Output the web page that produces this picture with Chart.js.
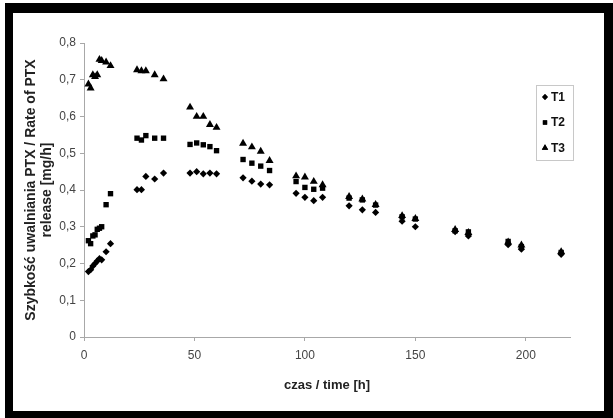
<!DOCTYPE html>
<html lang="pl">

<head>
    <meta charset="UTF-8">
    <title>Szybkość uwalniania PTX</title>
    <style>
        * {
            margin: 0;
            padding: 0;
            box-sizing: border-box;
        }

        body {
            background-color: #fff;
            width: 613px;
            height: 418px;
            overflow: hidden;
        }

        .chart-box {
            position: relative;
            width: 613px;
            height: 418px;
        }
    </style>
</head>

<body>
    <div class="chart-box">
        <canvas id="releaseChart" width="613" height="418"></canvas>
    </div>

    <script src="https://cdn.jsdelivr.net/npm/chart.js"></script>
    <script>
        // czas pomiaru [h]
        const times = [2, 3, 4, 5, 6, 7, 8, 10, 12, 24, 26, 28, 32, 36, 48, 51, 54, 57, 60,
            72, 76, 80, 84, 96, 100, 104, 108, 120, 126, 132, 144, 150, 168, 174, 192, 198, 216];

        // szybkość uwalniania [mg/h]
        const t1 = [0.178, 0.183, 0.193, 0.200, 0.207, 0.213, 0.210, 0.232, 0.254,
            0.401, 0.401, 0.437, 0.430, 0.446, 0.446, 0.450, 0.444, 0.446, 0.444,
            0.433, 0.424, 0.416, 0.414, 0.391, 0.380, 0.371, 0.380, 0.357, 0.346, 0.339,
            0.315, 0.300, 0.287, 0.275, 0.251, 0.239, 0.225];
        const t2 = [0.262, 0.254, 0.275, 0.278, 0.293, 0.296, 0.300, 0.360, 0.390,
            0.541, 0.536, 0.548, 0.541, 0.541, 0.524, 0.528, 0.523, 0.518, 0.507,
            0.483, 0.473, 0.465, 0.453, 0.423, 0.407, 0.402, 0.405, 0.378, 0.373, 0.359,
            0.327, 0.321, 0.289, 0.286, 0.260, 0.246, 0.230];
        const t3 = [0.688, 0.677, 0.713, 0.708, 0.713, 0.755, 0.752, 0.748, 0.738,
            0.727, 0.724, 0.724, 0.713, 0.702, 0.625, 0.600, 0.600, 0.578, 0.570,
            0.527, 0.517, 0.505, 0.480, 0.438, 0.435, 0.423, 0.414, 0.382, 0.375, 0.360,
            0.330, 0.322, 0.292, 0.284, 0.258, 0.250, 0.232];

        const xTicks = [0, 50, 100, 150, 200];

        const seriesNames = ['T1', 'T2', 'T3'];
        const markers = ['rectRot', 'rect', 'triangle'];
        const markerSizes = [3.6, 3.8, 4.6];

        const toPoints = vals => vals.map((v, i) => ({ x: times[i], y: v }));

        const datasets = [t1, t2, t3].map((vals, i) => ({
            label: seriesNames[i],
            data: toPoints(vals),
            pointStyle: markers[i],
            pointRadius: markerSizes[i],
            pointHoverRadius: markerSizes[i],
            backgroundColor: '#000',
            borderColor: '#000',
            borderWidth: 0
        }));

        // biała plansza + gruba czarna ramka
        const framePlugin = {
            id: 'frame',
            beforeDraw(chart) {
                const c = chart.ctx;
                c.save();
                c.fillStyle = '#fff';
                c.fillRect(0, 0, chart.width, chart.height);
                c.restore();
            },
            afterDraw(chart) {
                const c = chart.ctx;
                c.save();
                c.fillStyle = '#000';
                c.fillRect(5, 3, 608, 10);   // góra
                c.fillRect(5, 3, 8, 415);    // lewo
                c.fillRect(604, 3, 9, 415);  // prawo
                c.fillRect(5, 411, 608, 7);  // dół
                c.restore();
            }
        };

        // legenda w ramce po prawej
        const legendPlugin = {
            id: 'boxLegend',
            afterDatasetsDraw(chart) {
                const c = chart.ctx;
                const x0 = 536, y0 = 85, w = 37, h = 75;
                c.save();
                c.strokeStyle = '#c8c8c8';
                c.lineWidth = 1;
                c.strokeRect(x0 + 0.5, y0 + 0.5, w, h);
                c.font = 'bold 12px Arial, "Liberation Sans", sans-serif';
                c.textBaseline = 'middle';
                chart.data.datasets.forEach((ds, i) => {
                    const y = y0 + 12 + i * 25.5;
                    c.fillStyle = '#000';
                    Chart.helpers.drawPoint(c, {
                        pointStyle: ds.pointStyle,
                        radius: ds.pointRadius * 0.8,
                        borderWidth: 0
                    }, x0 + 9, y);
                    c.fill();
                    c.fillStyle = '#111';
                    c.fillText(ds.label, x0 + 15, y + 0.5);
                });
                c.restore();
            }
        };

        const tickFont = { family: 'Arial, "Liberation Sans", sans-serif', size: 12 };
        const xTitleFont = { family: 'Arial, "Liberation Sans", sans-serif', size: 13, weight: 'bold', lineHeight: 1.2 };
        const yTitleFont = { family: 'Arial, "Liberation Sans", sans-serif', size: 14, weight: 'bold', lineHeight: 1.08 };

        const ctx = document.getElementById('releaseChart').getContext('2d');

        new Chart(ctx, {
            type: 'scatter',
            data: { datasets: datasets },
            options: {
                responsive: false,
                animation: false,
                layout: {
                    padding: { top: 43, right: 43, bottom: 0, left: 0 }
                },
                plugins: {
                    legend: { display: false },
                    tooltip: { enabled: false }
                },
                scales: {
                    x: {
                        type: 'linear',
                        min: 0,
                        max: 220,
                        afterFit(scale) { scale.height = 81; },
                        afterBuildTicks(scale) {
                            scale.ticks = xTicks.map(v => ({ value: v }));
                        },
                        ticks: {
                            color: '#444',
                            font: tickFont,
                            padding: 7
                        },
                        grid: {
                            drawOnChartArea: false,
                            drawTicks: true,
                            tickLength: 4,
                            color: '#a8a8a8'
                        },
                        border: { color: '#a8a8a8', width: 1 },
                        title: {
                            display: true,
                            text: 'czas / time [h]',
                            color: '#222',
                            font: xTitleFont,
                            padding: { top: 0, bottom: 25 }
                        }
                    },
                    y: {
                        min: 0,
                        max: 0.8,
                        afterFit(scale) { scale.width = 84; },
                        ticks: {
                            stepSize: 0.1,
                            color: '#444',
                            font: tickFont,
                            padding: 4,
                            callback: v => v === 0 ? '0' : v.toFixed(1).replace('.', ',')
                        },
                        grid: {
                            drawOnChartArea: false,
                            drawTicks: true,
                            tickLength: 4,
                            color: '#a8a8a8'
                        },
                        border: { color: '#a8a8a8', width: 1 },
                        title: {
                            display: true,
                            text: ['Szybkość uwalniania PTX / Rate of PTX', 'release [mg/h]'],
                            color: '#222',
                            font: yTitleFont,
                            padding: { top: 24, bottom: 0 }
                        }
                    }
                }
            },
            plugins: [framePlugin, legendPlugin]
        });
    </script>
</body>

</html>
